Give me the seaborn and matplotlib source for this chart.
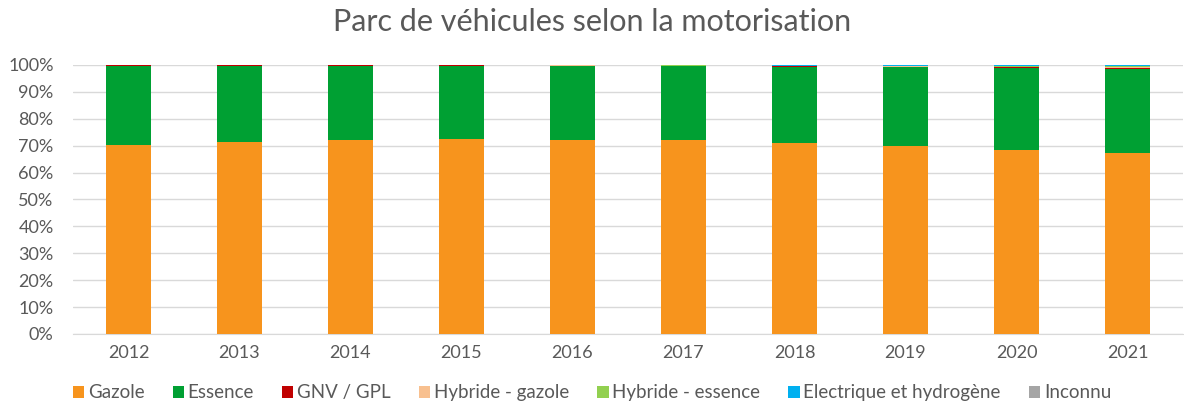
import numpy as np
import pandas as pd
import matplotlib
matplotlib.use("Agg")
import matplotlib.pyplot as plt
import seaborn as sns
from matplotlib.ticker import PercentFormatter
from matplotlib.patches import Patch

years = ["2012", "2013", "2014", "2015", "2016", "2017", "2018", "2019", "2020", "2021"]
gazole = [70.2, 71.4, 72.1, 72.5, 72.3, 72.0, 71.1, 69.9, 68.4, 67.3]
gnv_gpl = [0.3, 0.3, 0.3, 0.3, 0.3, 0.3, 0.25, 0.2, 0.2, 0.2]
hybride_gazole = [0.0, 0.0, 0.0, 0.02, 0.03, 0.05, 0.1, 0.15, 0.2, 0.25]
hybride_essence = [0.02, 0.03, 0.04, 0.05, 0.07, 0.1, 0.15, 0.2, 0.3, 0.35]
electrique = [0.01, 0.01, 0.02, 0.03, 0.04, 0.05, 0.15, 0.2, 0.3, 0.45]
inconnu = [0.05, 0.05, 0.05, 0.05, 0.05, 0.05, 0.1, 0.1, 0.1, 0.1]
essence = [100 - g - a - b - c - d - e for g, a, b, c, d, e in
           zip(gazole, gnv_gpl, hybride_gazole, hybride_essence, electrique, inconnu)]

series = ["Gazole", "Essence", "GNV / GPL", "Hybride - gazole",
          "Hybride - essence", "Electrique et hydrogène", "Inconnu"]
values = [gazole, essence, gnv_gpl, hybride_gazole, hybride_essence, electrique, inconnu]
colors = ["#F7941D", "#00A033", "#C00000", "#F8C08F", "#92D050", "#00B0F0", "#A5A5A5"]

df = pd.DataFrame(dict(zip(series, values)), index=years)
cum = df.cumsum(axis=1)

sns.set_style("white")
plt.rcParams["font.family"] = ["Lato", "DejaVu Sans"]
text_col = "#595959"

fig = plt.figure(figsize=(11.84, 4.12), dpi=100)
ax = fig.add_axes([73 / 1184, 1 - 334 / 412, 1110 / 1184, 269 / 412])

# draw cumulative totals from the top series down so each layer sits on the previous
for name, col in reversed(list(zip(series, colors))):
    sns.barplot(x=years, y=cum[name].values, color=col, width=0.41,
                linewidth=0, saturation=1, ax=ax, zorder=3)

ax.set_ylim(0, 100)
ax.set_yticks(np.arange(0, 101, 10))
ax.yaxis.set_major_formatter(PercentFormatter(100, decimals=0))
ax.grid(axis="y", color="#D9D9D9", linewidth=1, zorder=0)
ax.set_axisbelow(True)
for s in ["top", "right", "left"]:
    ax.spines[s].set_visible(False)
ax.spines["bottom"].set_color("#D9D9D9")
ax.tick_params(axis="y", colors=text_col, labelsize=13, length=0, pad=14)
ax.tick_params(axis="x", colors=text_col, labelsize=13, length=0, pad=8)
ax.set_xlabel("")
ax.set_ylabel("")

fig.suptitle("Parc de véhicules selon la motorisation", y=0.98,
             fontsize=22, color=text_col)

handles = [Patch(facecolor=c, edgecolor="none") for c in colors]
fig.legend(handles, series, loc="lower center", ncol=7, frameon=False,
           bbox_to_anchor=(0.5, -0.015), fontsize=13.5, labelcolor=text_col,
           handlelength=0.6, handleheight=0.6, handletextpad=0.2, columnspacing=1.5)

fig.savefig("out.png", dpi=100)
